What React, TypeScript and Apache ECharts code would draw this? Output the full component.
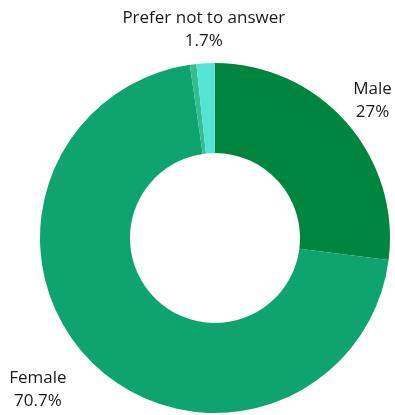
import React, { useEffect, useRef } from "react";
import * as echarts from "echarts";

const categories = ["Male", "Female", "Other", "Prefer not to answer"];
const values = [27, 70.7, 0.6, 1.7];
const showLabel = [true, true, false, true];
const colors = ["#00853f", "#0fa36f", "#35bd92", "#55e3d3"];
const extraLen2 = [0, 30, 0, 0];

export default function App() {
  const ref = useRef<HTMLDivElement>(null);
  useEffect(() => {
    if (!ref.current) return;
    const chart = echarts.init(ref.current, undefined, { renderer: "svg" });
    chart.setOption({
      animation: false,
      series: [
        {
          type: "pie",
          center: [215, 238],
          radius: [85, 175],
          startAngle: 90,
          clockwise: true,
          avoidLabelOverlap: false,
          itemStyle: { borderWidth: 0 },
          label: {
            position: "outside",
            distanceToLabelLine: 0,
            formatter: "{t|{b}}\n{t|{c}%}",
            rich: {
              t: {
                align: "center",
                fontFamily: "Open Sans",
                fontSize: 17,
                lineHeight: 23,
                color: "#1a1a1a",
              },
            },
          },
          labelLine: { show: false, length: 35, length2: 0 },
          labelLayout: { align: "center", verticalAlign: "middle" },
          data: categories.map((name, i) => ({
            name,
            value: values[i],
            itemStyle: { color: colors[i] },
            label: { show: showLabel[i] },
            labelLine: { show: false, length: 35, length2: extraLen2[i] },
          })),
        },
      ],
    });
    return () => chart.dispose();
  }, []);
  return (
    <div
      ref={ref}
      style={{ position: "fixed", left: 0, top: 0, width: 395, height: 415 }}
    />
  );
}
